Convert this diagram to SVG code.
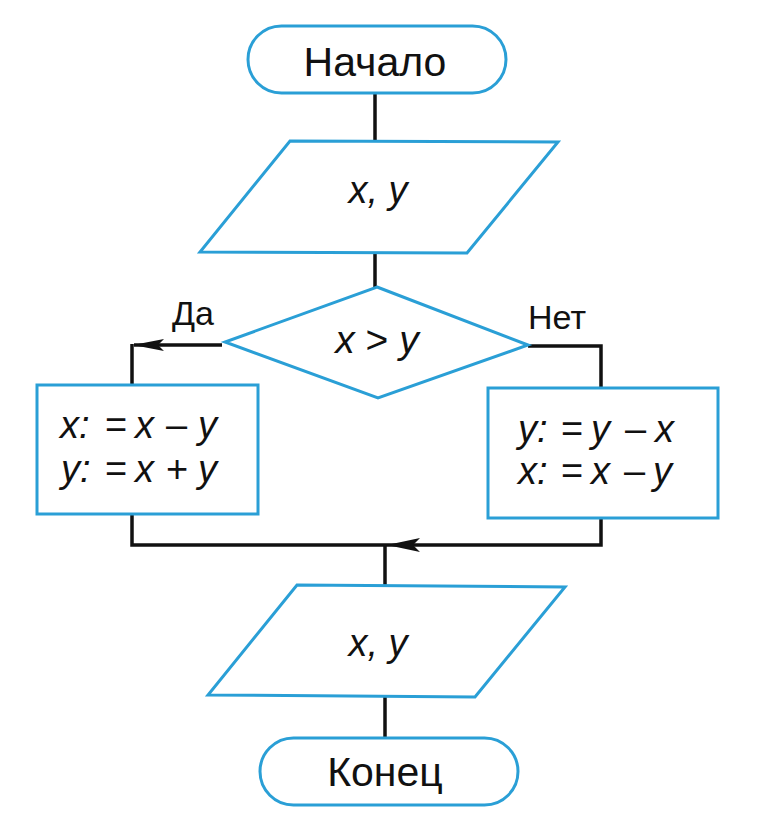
<svg xmlns="http://www.w3.org/2000/svg" width="772" height="828" viewBox="0 0 772 828">
<style>
.shape{fill:#fff;stroke:#2a9fd6;stroke-width:3}
.conn{fill:none;stroke:#111;stroke-width:3.5}
.t{font-family:"Liberation Sans",Arial,sans-serif;fill:#111}
.i{font-style:italic}
</style>
<rect width="772" height="828" fill="#fff"/>
<g id="connectors">
<line class="conn" x1="375" y1="93" x2="375" y2="140"/>
<line class="conn" x1="375" y1="253" x2="375" y2="288"/>
<path class="conn" d="M222,345 H134" />
<path d="M133,345 L164,339 L158,345 L164,351 Z" fill="#111"/>
<path class="conn" d="M132,344 V386"/>
<path class="conn" d="M528,346 H601 V388"/>
<path class="conn" d="M132,514 V545 H601 V518"/>
<path d="M387,545 L420,538 L413,545 L420,552 Z" fill="#111"/>
<line class="conn" x1="385" y1="545" x2="385" y2="586"/>
<line class="conn" x1="385" y1="697" x2="385" y2="738"/>
</g>
<g id="start">
<rect class="shape" x="248" y="26" width="258" height="67" rx="33.5"/>
<text class="t" x="375" y="76" font-size="41" text-anchor="middle">Начало</text>
</g>
<g id="input">
<polygon class="shape" points="290,141 558,142 467,253 200,252"/>
<text class="t i" x="378" y="203" font-size="38" text-anchor="middle">x, y</text>
</g>
<g id="decision">
<polygon class="shape" points="377,287 528,345 378,398 225,342"/>
<text class="t i" x="377" y="353" font-size="39" text-anchor="middle">x <tspan font-style="normal">&gt;</tspan> y</text>
<text class="t" x="193" y="325" font-size="34" text-anchor="middle">Да</text>
<text class="t" x="557" y="329" font-size="34" text-anchor="middle">Нет</text>
</g>
<g id="yes-box">
<rect class="shape" x="37" y="385" width="221" height="129"/>
<text class="t i" y="438" font-size="38"><tspan x="60">x:</tspan><tspan x="105" font-style="normal">=</tspan><tspan x="135">x</tspan><tspan x="166" font-style="normal">–</tspan><tspan x="198">y</tspan></text>
<text class="t i" y="482" font-size="38"><tspan x="61">y:</tspan><tspan x="105" font-style="normal">=</tspan><tspan x="135">x</tspan><tspan x="166" font-style="normal">+</tspan><tspan x="198">y</tspan></text>
</g>
<g id="no-box">
<rect class="shape" x="488" y="388" width="230" height="130"/>
<text class="t i" y="442" font-size="38"><tspan x="518">y:</tspan><tspan x="561" font-style="normal">=</tspan><tspan x="591">y</tspan><tspan x="625" font-style="normal">–</tspan><tspan x="655">x</tspan></text>
<text class="t i" y="484" font-size="38"><tspan x="518">x:</tspan><tspan x="561" font-style="normal">=</tspan><tspan x="591">x</tspan><tspan x="624" font-style="normal">–</tspan><tspan x="653">y</tspan></text>
</g>
<g id="output">
<polygon class="shape" points="297,585 565,587 475,697 208,695"/>
<text class="t i" x="378" y="656" font-size="38" text-anchor="middle">x, y</text>
</g>
<g id="end">
<rect class="shape" x="260" y="738" width="258" height="67" rx="33.5"/>
<text class="t" x="385" y="786" font-size="41" text-anchor="middle">Конец</text>
</g>
</svg>
